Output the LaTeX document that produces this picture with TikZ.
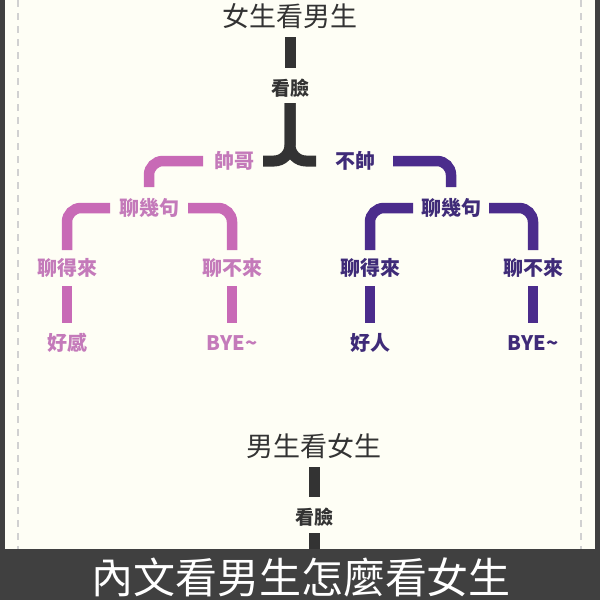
\documentclass[tikz,border=0pt]{standalone}
\usepackage{fontspec}
\newfontfamily\cjk{Noto Sans CJK TC}
\definecolor{darkbg}{HTML}{404040}
\definecolor{cream}{HTML}{FEFEF5}
\definecolor{inkgray}{HTML}{333333}
\definecolor{pinkbar}{HTML}{C86AB6}
\definecolor{pinktext}{HTML}{C47ABA}
\definecolor{purplebar}{HTML}{4B2C8C}
\definecolor{purpletext}{HTML}{3F2B78}
\begin{document}
\begin{tikzpicture}[x=1pt, y=-1pt,
    headline/.style={text=inkgray, font=\cjk\fontsize{27}{30}\selectfont},
    facelabel/.style={text=inkgray, font=\cjk\bfseries\fontsize{19}{22}\selectfont},
    pinklabel/.style={text=pinktext, font=\cjk\bfseries\fontsize{20}{22}\selectfont},
    purplelabel/.style={text=purpletext, font=\cjk\bfseries\fontsize{20}{22}\selectfont},
    blackline/.style={draw=inkgray, line width=11pt, rounded corners=16pt},
    pinkline/.style={draw=pinkbar, line width=10.5pt, rounded corners=14pt},
    purpleline/.style={draw=purplebar, line width=10.5pt, rounded corners=14pt},
    edgedash/.style={draw=black!18, line width=1.5pt, dash pattern=on 7pt off 6pt}]

  \useasboundingbox (0,0) rectangle (600,600);
  \fill[darkbg] (0,0) rectangle (600,600);
  \fill[cream] (5,0) rectangle (595,549);
  \foreach \x in {18,581}
    \draw[edgedash] (\x,0) -- (\x,549);

  % women looking at men
  \node[headline] (womantitle) at (290,16) {女生看男生};
  \node[facelabel] (faceA) at (290,88) {看臉};
  \node[pinklabel] (handsome) at (234,161) {帥哥};
  \node[purplelabel] (plain) at (355,161) {不帥};

  \node[pinklabel] (chatL) at (149,208) {聊幾句};
  \node[pinklabel] (okL) at (67,268) {聊得來};
  \node[pinklabel] (noL) at (232,268) {聊不來};
  \node[pinklabel] (likeL) at (67,343) {好感};
  \node[pinklabel] (byeL) at (232,343) {BYE\textasciitilde};

  \node[purplelabel] (chatR) at (451,208) {聊幾句};
  \node[purplelabel] (okR) at (370,268) {聊得來};
  \node[purplelabel] (noR) at (533,268) {聊不來};
  \node[purplelabel] (niceR) at (370,343) {好人};
  \node[purplelabel] (byeR) at (533,343) {BYE\textasciitilde};

  \draw[blackline, shorten <=21pt, shorten >=20pt] (womantitle.center) -- (faceA.center);
  \draw[blackline, shorten <=15pt, shorten >=29pt] (faceA.center) |- (handsome.center);
  \draw[blackline, shorten <=15pt, shorten >=39pt] (faceA.center) |- (plain.center);

  \draw[pinkline, shorten <=31pt, shorten >=21pt] (handsome.center) -| (chatL.center);
  \draw[pinkline, shorten <=39pt, shorten >=18pt] (chatL.center) -| (okL.center);
  \draw[pinkline, shorten <=39pt, shorten >=18pt] (chatL.center) -| (noL.center);
  \draw[pinkline, shorten <=18pt, shorten >=20pt] (okL.center) -- (likeL.center);
  \draw[pinkline, shorten <=18pt, shorten >=20pt] (noL.center) -- (byeL.center);

  \draw[purpleline, shorten <=38pt, shorten >=21pt] (plain.center) -| (chatR.center);
  \draw[purpleline, shorten <=38pt, shorten >=18pt] (chatR.center) -| (okR.center);
  \draw[purpleline, shorten <=38pt, shorten >=18pt] (chatR.center) -| (noR.center);
  \draw[purpleline, shorten <=18pt, shorten >=20pt] (okR.center) -- (niceR.center);
  \draw[purpleline, shorten <=18pt, shorten >=20pt] (noR.center) -- (byeR.center);

  % men looking at women
  \node[headline] (mantitle) at (314,446) {男生看女生};
  \node[facelabel] (faceB) at (314,517) {看臉};
  \coordinate (cut) at (314,549);
  \draw[blackline, shorten <=21pt, shorten >=20pt] (mantitle.center) -- (faceB.center);
  \draw[blackline, shorten <=16pt] (faceB.center) -- (cut);

  \node[text=white, font=\cjk\fontsize{42}{46}\selectfont] (caption) at (301,577) {內文看男生怎麼看女生};
\end{tikzpicture}
\end{document}
